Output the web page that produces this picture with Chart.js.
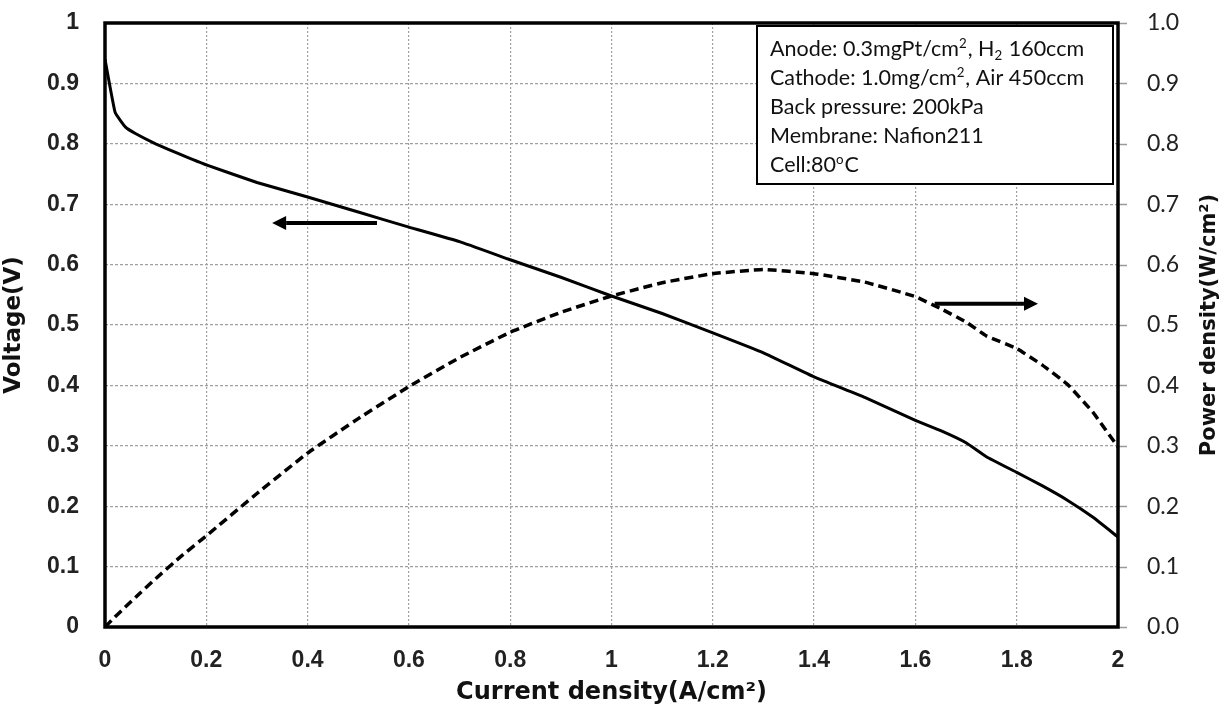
<!DOCTYPE html>
<html>
<head>
<meta charset="utf-8">
<script src="https://cdn.jsdelivr.net/npm/chart.js@4.4.1/dist/chart.umd.min.js"></script>
<style>
  html, body { margin: 0; padding: 0; background: #fff; }
  #wrap { width: 1225px; height: 707px; position: relative; }
</style>
</head>
<body>
<div id="wrap"><canvas id="c" width="1225" height="707"></canvas></div>
<script>
// Polarization data: current density (A/cm²), cell voltage (V), power density (W/cm²)
const currentDensity = [0, 0.02, 0.04, 0.06, 0.1, 0.15, 0.2, 0.3, 0.4, 0.5, 0.6, 0.7, 0.8, 0.9, 1.0, 1.1, 1.2, 1.3, 1.4, 1.5, 1.6, 1.65, 1.7, 1.74, 1.8, 1.85, 1.9, 1.95, 2.0];
const voltage = [0.94, 0.852, 0.828, 0.817, 0.800, 0.782, 0.765, 0.736, 0.712, 0.687, 0.662, 0.638, 0.608, 0.579, 0.548, 0.519, 0.487, 0.454, 0.414, 0.380, 0.342, 0.325, 0.305, 0.282, 0.256, 0.234, 0.210, 0.182, 0.149];
const powerDensity = [0, 0.017, 0.033, 0.049, 0.080, 0.117, 0.151, 0.221, 0.288, 0.345, 0.398, 0.446, 0.488, 0.521, 0.548, 0.570, 0.585, 0.592, 0.585, 0.571, 0.547, 0.527, 0.505, 0.482, 0.461, 0.434, 0.402, 0.356, 0.298];

// Tick labels
const xTickLabels = ['0', '0.2', '0.4', '0.6', '0.8', '1', '1.2', '1.4', '1.6', '1.8', '2'];
const voltageTickLabels = ['0', '0.1', '0.2', '0.3', '0.4', '0.5', '0.6', '0.7', '0.8', '0.9', '1'];
const powerTickLabels = ['0.0', '0.1', '0.2', '0.3', '0.4', '0.5', '0.6', '0.7', '0.8', '0.9', '1.0'];

// Arrows pointing each curve to its axis: [fromX, toX], level on that axis
const voltageArrowX = [0.537, 0.33];
const voltageArrowLevel = 0.669;
const powerArrowX = [1.638, 1.842];
const powerArrowLevel = 0.535;

// Test conditions (runs: [text, 'sup' | 'sub' | undefined])
const conditionLines = [
  [['Anode: 0.3mgPt/cm'], ['2', 'sup'], [', H'], ['2', 'sub'], [' 160ccm']],
  [['Cathode: 1.0mg/cm'], ['2', 'sup'], [', Air 450ccm']],
  [['Back pressure: 200kPa']],
  [['Membrane: Nafion211']],
  [['Cell:80'], ['o', 'sup'], ['C']]
];

const xTitle = 'Current density(A/cm²)';
const leftTitle = 'Voltage(V)';
const rightTitle = 'Power density(W/cm²)';

const tickFont = { family: 'Liberation Sans, Arial, sans-serif', size: 23, weight: 'bold' };
const rightTickFont = { family: 'Lato, sans-serif', size: 23 };
const xTitleFont = { family: 'DejaVu Sans, sans-serif', size: 24, weight: 'bold' };
const yTitleFont = { family: 'DejaVu Sans, sans-serif', size: 23, weight: 'bold' };
const rightTitleSize = 21;
const noteFont = 'Lato, sans-serif';

const voltagePoints = currentDensity.map((x, i) => ({ x, y: voltage[i] }));
const powerPoints = currentDensity.map((x, i) => ({ x, y: powerDensity[i] }));

function drawArrow(ctx, x1, x2, y) {
  const dir = Math.sign(x2 - x1);
  const headLen = 14, headHalf = 7;
  ctx.save();
  ctx.strokeStyle = '#000';
  ctx.fillStyle = '#000';
  ctx.lineWidth = 4;
  ctx.beginPath();
  ctx.moveTo(x1, y);
  ctx.lineTo(x2 - dir * headLen, y);
  ctx.stroke();
  ctx.beginPath();
  ctx.moveTo(x2, y);
  ctx.lineTo(x2 - dir * headLen, y - headHalf);
  ctx.lineTo(x2 - dir * headLen, y + headHalf);
  ctx.closePath();
  ctx.fill();
  ctx.restore();
}

const decorations = {
  id: 'decorations',
  afterDatasetsDraw(chart) {
    const { ctx, chartArea: a, scales } = chart;

    // short outward ticks on the power axis
    ctx.save();
    ctx.strokeStyle = '#999';
    ctx.lineWidth = 1.5;
    scales.yP.ticks.forEach(t => {
      const y = Math.round(scales.yP.getPixelForValue(t.value)) + 0.5;
      ctx.beginPath();
      ctx.moveTo(a.right, y);
      ctx.lineTo(a.right + 9, y);
      ctx.stroke();
    });
    ctx.restore();

    // plot frame
    ctx.save();
    ctx.strokeStyle = '#000';
    ctx.lineWidth = 3.5;
    ctx.strokeRect(a.left, a.top, a.right - a.left, a.bottom - a.top);
    ctx.restore();

    // arrows
    drawArrow(ctx, scales.x.getPixelForValue(voltageArrowX[0]), scales.x.getPixelForValue(voltageArrowX[1]),
      scales.yV.getPixelForValue(voltageArrowLevel));
    drawArrow(ctx, scales.x.getPixelForValue(powerArrowX[0]), scales.x.getPixelForValue(powerArrowX[1]),
      scales.yP.getPixelForValue(powerArrowLevel));

    // conditions box
    const bx = 757, by = 26, bw = 356, bh = 158;
    ctx.save();
    ctx.fillStyle = '#fff';
    ctx.fillRect(bx, by, bw, bh);
    ctx.strokeStyle = '#000';
    ctx.lineWidth = 2;
    ctx.strokeRect(bx, by, bw, bh);
    ctx.fillStyle = '#111';
    ctx.textBaseline = 'alphabetic';
    const size = 21.5;
    conditionLines.forEach((runs, i) => {
      let x = bx + 13;
      const y = by + 30 + i * 29;
      runs.forEach(([text, kind]) => {
        const s = kind ? size * 0.62 : size;
        const dy = kind === 'sup' ? -size * 0.38 : kind === 'sub' ? size * 0.2 : 0;
        ctx.font = `${s}px ${noteFont}`;
        ctx.fillText(text, x, y + dy);
        x += ctx.measureText(text).width + (kind ? 1 : 0);
      });
    });
    ctx.restore();

    // right axis title, reading bottom to top
    ctx.save();
    ctx.translate(1210, (a.top + a.bottom) / 2);
    ctx.rotate(-Math.PI / 2);
    ctx.font = `bold ${rightTitleSize}px ${yTitleFont.family}`;
    ctx.fillStyle = '#111';
    ctx.textAlign = 'center';
    ctx.textBaseline = 'middle';
    ctx.fillText(rightTitle, 0, 0);
    ctx.restore();
  }
};

new Chart(document.getElementById('c'), {
  type: 'line',
  data: {
    datasets: [
      {
        label: 'Voltage',
        data: voltagePoints,
        yAxisID: 'yV',
        borderColor: '#000',
        borderWidth: 3,
        pointRadius: 0,
        tension: 0.1,
        fill: false
      },
      {
        label: 'Power density',
        data: powerPoints,
        yAxisID: 'yP',
        borderColor: '#000',
        borderWidth: 3.5,
        borderDash: [9, 5],
        pointRadius: 0,
        tension: 0.1,
        fill: false
      }
    ]
  },
  options: {
    responsive: false,
    animation: false,
    layout: { padding: { top: 23, left: 0, right: 0, bottom: 0 } },
    plugins: { legend: { display: false }, tooltip: { enabled: false } },
    scales: {
      x: {
        type: 'linear',
        min: 0, max: 2,
        afterFit(s) { s.height = 80; },
        ticks: {
          stepSize: 0.2,
          padding: 20,
          color: '#222',
          font: tickFont,
          maxRotation: 0,
          callback: (v, i) => xTickLabels[i]
        },
        grid: { color: '#a0a0a0', lineWidth: 1.2, drawTicks: false },
        border: { display: false, dash: [2, 2] },
        title: { display: true, text: xTitle, font: xTitleFont, color: '#111', padding: { top: 2, bottom: 0 } }
      },
      yV: {
        type: 'linear',
        position: 'left',
        min: 0, max: 1,
        afterFit(s) { s.width = 105; },
        ticks: {
          stepSize: 0.1,
          padding: 4,
          color: '#222',
          font: tickFont,
          callback: (v, i) => voltageTickLabels[i]
        },
        grid: { color: '#a0a0a0', lineWidth: 1.2, drawTicks: true, tickLength: 22, tickColor: 'rgba(0,0,0,0)' },
        border: { display: false, dash: [3, 2] },
        title: { display: true, text: leftTitle, font: yTitleFont, color: '#111', padding: { top: 0, bottom: 0 } }
      },
      yP: {
        type: 'linear',
        position: 'right',
        min: 0, max: 1,
        afterFit(s) { s.width = 107; },
        ticks: {
          stepSize: 0.1,
          padding: 2,
          color: '#222',
          font: rightTickFont,
          callback: (v, i) => powerTickLabels[i]
        },
        grid: { drawOnChartArea: false, drawTicks: true, tickLength: 27, tickColor: 'rgba(0,0,0,0)' },
        border: { display: false }
      }
    }
  },
  plugins: [decorations]
});
</script>
</body>
</html>
